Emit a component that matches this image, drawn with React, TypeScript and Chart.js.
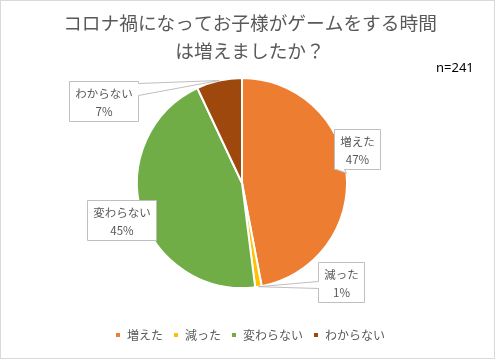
import React, { useEffect, useRef } from "react";
import { Chart, registerables } from "chart.js";

Chart.register(...registerables);

const categories = ["増えた", "減った", "変わらない", "わからない"];
const percentages = [47, 1, 45, 7];
const sliceColors = ["#ED7D31", "#FFC000", "#70AD47", "#9E480E"];
const titleLines = ["コロナ禍になってお子様がゲームをする時間", "は増えましたか？"];
const sampleNote = "n=241";

// callout placement relative to the pie centre, in units of the radius
const calloutPlacement = [
  { dx: 1.095, dy: -0.324, side: "bottom", b1: 2, b2: 10 },
  { dx: 0.943, dy: 0.943, side: "left", b1: 19, b2: 26 },
  { dx: -1.143, dy: 0.352, side: "none", b1: 0, b2: 0 },
  { dx: -1.314, dy: -0.781, side: "right", b1: 2, b2: 14 },
];

const JP = '"Noto Sans CJK JP", "Noto Sans", sans-serif';

function calloutPath(ctx, l, t, r, b, side, b1, b2, ax, ay) {
  ctx.beginPath();
  ctx.moveTo(l, t);
  if (side === "top") {
    ctx.lineTo(l + b1, t);
    ctx.lineTo(ax, ay);
    ctx.lineTo(l + b2, t);
  }
  ctx.lineTo(r, t);
  if (side === "right") {
    ctx.lineTo(r, t + b1);
    ctx.lineTo(ax, ay);
    ctx.lineTo(r, t + b2);
  }
  ctx.lineTo(r, b);
  if (side === "bottom") {
    ctx.lineTo(l + b2, b);
    ctx.lineTo(ax, ay);
    ctx.lineTo(l + b1, b);
  }
  ctx.lineTo(l, b);
  if (side === "left") {
    ctx.lineTo(l, t + b2);
    ctx.lineTo(ax, ay);
    ctx.lineTo(l, t + b1);
  }
  ctx.closePath();
}

const decorPlugin = {
  id: "decor",
  afterLayout(chart) {
    // nudge the legend a little to the right, as in the original
    if (chart.legend) {
      chart.legend.left += 8;
      chart.legend.right += 8;
    }
  },
  beforeDraw(chart) {
    const ctx = chart.ctx;
    ctx.save();
    ctx.fillStyle = "#ffffff";
    ctx.fillRect(0, 0, chart.width, chart.height);
    ctx.strokeStyle = "#d9d9d9";
    ctx.lineWidth = 1;
    ctx.strokeRect(0.5, 0.5, chart.width - 1, chart.height - 1);
    ctx.restore();
  },
  afterDatasetsDraw(chart) {
    const ctx = chart.ctx;
    ctx.save();
    // title
    ctx.fillStyle = "#595959";
    ctx.font = `18.7px ${JP}`;
    ctx.textAlign = "center";
    ctx.textBaseline = "middle";
    ctx.fillText(titleLines[0], 250, 23);
    ctx.fillText(titleLines[1], 250, 51);
    // sample size
    ctx.fillStyle = "#000000";
    ctx.font = '13px "Noto Sans", sans-serif';
    ctx.textAlign = "left";
    ctx.fillText(sampleNote, 436, 68);

    // callouts
    const meta = chart.getDatasetMeta(0);
    const total = percentages.reduce((a, v) => a + v, 0);
    ctx.font = `11.5px ${JP}`;
    meta.data.forEach((arc, i) => {
      const p = arc.getProps(["x", "y", "startAngle", "endAngle", "outerRadius"], true);
      const mid = (p.startAngle + p.endAngle) / 2;
      const ax = p.x + Math.cos(mid) * p.outerRadius;
      const ay = p.y + Math.sin(mid) * p.outerRadius;
      const pl = calloutPlacement[i];
      const cx = p.x + pl.dx * p.outerRadius;
      const cy = p.y + pl.dy * p.outerRadius;
      const line1 = categories[i];
      const line2 = Math.round((percentages[i] / total) * 100) + "%";
      const w = Math.max(ctx.measureText(line1).width, ctx.measureText(line2).width) + 12;
      const h = 40;
      const l = Math.round(cx - w / 2) + 0.5;
      const t = Math.round(cy - h / 2) + 0.5;
      const r = l + Math.round(w);
      const b = t + h;
      calloutPath(ctx, l, t, r, b, pl.side, pl.b1, pl.b2, ax, ay);
      ctx.fillStyle = "#ffffff";
      ctx.fill();
      ctx.strokeStyle = "#bfbfbf";
      ctx.lineWidth = 1;
      ctx.stroke();
      ctx.fillStyle = "#595959";
      ctx.textAlign = "center";
      ctx.textBaseline = "middle";
      ctx.fillText(line1, (l + r) / 2, t + 12);
      ctx.fillText(line2, (l + r) / 2, t + 30);
    });
    ctx.restore();
  },
};

export default function App() {
  const ref = useRef(null);
  useEffect(() => {
    const chart = new Chart(ref.current, {
      type: "pie",
      data: {
        labels: categories,
        datasets: [
          {
            data: percentages,
            backgroundColor: sliceColors,
            borderColor: "#ffffff",
            borderWidth: 2,
          },
        ],
      },
      options: {
        responsive: false,
        animation: false,
        radius: 105,
        layout: { padding: { top: 47, bottom: 8, left: 0, right: 11 } },
        plugins: {
          title: { display: false },
          tooltip: { enabled: false },
          legend: {
            position: "bottom",
            labels: {
              boxWidth: 6,
              boxHeight: 6,
              padding: 10,
              color: "#595959",
              font: { size: 12, family: JP },
            },
          },
        },
      },
      plugins: [decorPlugin],
    });
    return () => chart.destroy();
  }, []);
  return (
    <div style={{ position: "absolute", left: 0, top: 0, width: 495, height: 359 }}>
      <canvas ref={ref} width={495} height={359} />
    </div>
  );
}
